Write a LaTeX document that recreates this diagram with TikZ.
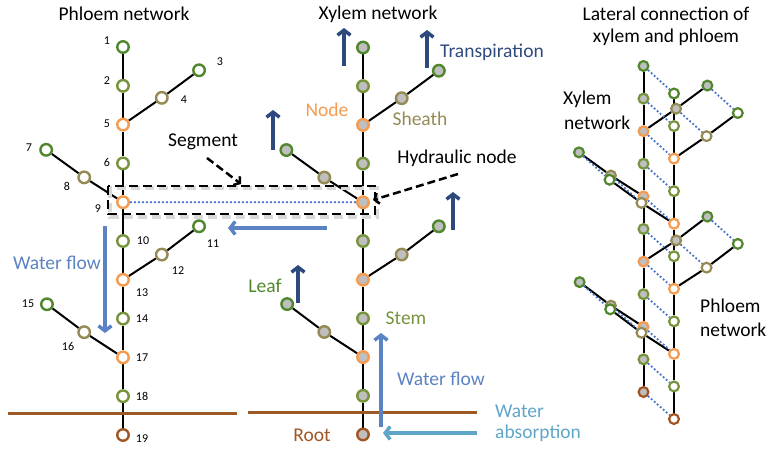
\documentclass[tikz,border=0pt]{standalone}
\usepackage{fontspec}
\setmainfont{Carlito}
\usetikzlibrary{arrows.meta,backgrounds}
\definecolor{leafc}{RGB}{80,135,45}
\definecolor{stemc}{RGB}{119,147,60}
\definecolor{sheathc}{RGB}{148,138,84}
\definecolor{jointc}{RGB}{245,155,80}
\definecolor{rootc}{RGB}{160,85,35}
\definecolor{grayfill}{RGB}{191,191,191}
\definecolor{darkbluec}{RGB}{46,74,125}
\definecolor{flowc}{RGB}{91,130,195}
\definecolor{absorbc}{RGB}{95,165,200}
\definecolor{dotc}{RGB}{68,114,196}
\definecolor{groundc}{RGB}{155,90,40}
\tikzset{
  edge/.style={line width=2pt, black},
  dotline/.style={dotc, line width=1.8pt, dash pattern=on 1.8pt off 2.2pt},
  bigtext/.style={inner sep=0pt, font=\fontsize{19.5}{23}\selectfont},
  numtext/.style={inner sep=0pt, font=\fontsize{12}{14}\selectfont},
  upblue/.style={darkbluec, line width=3.5pt, -{Straight Barb[length=5pt,width=13pt]}},
  flowarrow/.style={flowc, line width=3.5pt, -{Straight Barb[length=5pt,width=13pt]}},
  absorbarrow/.style={absorbc, line width=3.5pt, -{Straight Barb[length=5pt,width=13pt]}},
  pointer/.style={black, line width=2.5pt, dash pattern=on 8pt off 4pt, -{Straight Barb[length=4pt,width=11pt]}},
  segbox/.style={black, line width=2pt, dash pattern=on 9pt off 5pt},
  ground/.style={groundc, line width=3pt},
}
% #1 prefix, #2 x0, #3 y0, #4 spacing, #5 fill, #6 size, #7 line width
\newcommand{\plantnet}[7]{%
\begin{scope}[shift={(#2,#3)}, x=#4pt, y=-#4pt,
  every node/.append style={circle, inner sep=0pt, minimum size=#6pt, line width=#7pt, fill=#5}]
 \node[draw=leafc] (#1-1) at (0,0) {};
 \node[draw=stemc] (#1-2) at (0,1) {};
 \node[draw=jointc] (#1-5) at (0,2) {};
 \node[draw=stemc] (#1-6) at (0,3) {};
 \node[draw=jointc] (#1-9) at (0,4) {};
 \node[draw=stemc] (#1-10) at (0,5) {};
 \node[draw=jointc] (#1-13) at (0,6) {};
 \node[draw=stemc] (#1-14) at (0,7) {};
 \node[draw=jointc] (#1-17) at (0,8) {};
 \node[draw=stemc] (#1-18) at (0,9) {};
 \node[draw=rootc] (#1-19) at (0,10) {};
 \node[draw=leafc] (#1-3) at (1.96,0.6) {};
 \node[draw=sheathc] (#1-4) at (1.0,1.31) {};
 \node[draw=leafc] (#1-7) at (-1.98,2.65) {};
 \node[draw=sheathc] (#1-8) at (-1.0,3.36) {};
 \node[draw=leafc] (#1-11) at (1.96,4.62) {};
 \node[draw=sheathc] (#1-12) at (1.0,5.35) {};
 \node[draw=leafc] (#1-15) at (-1.96,6.63) {};
 \node[draw=sheathc] (#1-16) at (-1.0,7.35) {};
 \begin{pgfonlayer}{background}
  \draw[edge] (#1-1) -- (#1-2) -- (#1-5) -- (#1-6) -- (#1-9) -- (#1-10) -- (#1-13)
     -- (#1-14) -- (#1-17) -- (#1-18) -- (#1-19);
  \draw[edge] (#1-5) -- (#1-4) -- (#1-3);
  \draw[edge] (#1-9) -- (#1-8) -- (#1-7);
  \draw[edge] (#1-13) -- (#1-12) -- (#1-11);
  \draw[edge] (#1-17) -- (#1-16) -- (#1-15);
 \end{pgfonlayer}
\end{scope}}
\begin{document}
\begin{tikzpicture}[x=1pt,y=-1pt]
\useasboundingbox (0,0) rectangle (773,449);

% ground lines
\coordinate (gA1) at (8,413); \coordinate (gA2) at (237,413);
\coordinate (gB1) at (248,412); \coordinate (gB2) at (477,412);
\draw[ground] (gA1) -- (gA2);
\draw[ground] (gB1) -- (gB2);

% segment box shadow and box
\draw[black!15, line width=4pt, dash pattern=on 9pt off 5pt] (110,188.5) rectangle (377,216.5);
\draw[segbox] (108,186) rectangle (375,214);

% networks
\plantnet{P}{123}{47}{38.8}{white}{11.5}{2.4}
\plantnet{X}{363}{47.5}{38.7}{grayfill}{11.5}{2.4}
\plantnet{RX}{643.5}{66}{32.6}{grayfill}{9.8}{2.2}
\plantnet{RP}{674}{93.5}{32.55}{white}{9.8}{2.2}

\begin{pgfonlayer}{background}
 \draw[ground] (gA1) -- (gA2);
 \draw[ground] (gB1) -- (gB2);
 \foreach \i in {1,...,19} { \draw[dotline] (RX-\i) -- (RP-\i); }
\end{pgfonlayer}
\draw[dotline] (P-9) -- (X-9);

% number labels
\foreach \n/\xx/\yy in {1/107/41, 2/107/81, 3/220/62, 4/184/100, 5/107/124, 6/107/162,
  7/29/148, 8/67/186, 9/98/209, 10/143/241, 11/213/244, 12/178/271, 13/142/293,
  14/142/319, 15/28/304, 16/68/346, 17/142/358, 18/142/396, 19/142/439}
  { \node[numtext] (num\n) at (\xx,\yy) {\n}; }

% titles
\node[bigtext] (t1) at (124,14) {Phloem network};
\node[bigtext] (t2) at (378,14) {Xylem network};
\node[bigtext] (t3) at (666,14) {Lateral connection of};
\node[bigtext] (t4) at (666,37) {xylem and phloem};

% labels
\node[bigtext, text=darkbluec] (ltrans) at (492,52) {Transpiration};
\node[bigtext, text=jointc] (lnode) at (327,110) {Node};
\node[bigtext, text=sheathc] (lsheath) at (420,119) {Sheath};
\node[bigtext] (lseg) at (203,142) {Segment};
\node[bigtext] (lhyd) at (457,158) {Hydraulic node};
\node[bigtext, text=flowc] (lwf1) at (57,263) {Water flow};
\node[bigtext, text=leafc] (lleaf) at (265,286) {Leaf};
\node[bigtext, text=stemc] (lstem) at (406,318) {Stem};
\node[bigtext, text=flowc] (lwf2) at (441,379) {Water flow};
\node[bigtext, text=absorbc, anchor=west] (lwat) at (495,411) {Water};
\node[bigtext, text=absorbc, anchor=west] (labs) at (495,433) {absorption};
\node[bigtext, text=rootc] (lroot) at (312,435) {Root};
\node[bigtext, anchor=west] (lxy1) at (563,99) {Xylem};
\node[bigtext, anchor=west] (lxy2) at (564,123) {network};
\node[bigtext, anchor=west] (lph1) at (700,306) {Phloem};
\node[bigtext, anchor=west] (lph2) at (700,330) {network};

% transpiration arrows
\coordinate (ta1) at (344,66); \coordinate (tb1) at (344,28);
\coordinate (ta2) at (427,68); \coordinate (tb2) at (427,30);
\coordinate (ta3) at (273,150); \coordinate (tb3) at (273,110);
\coordinate (ta4) at (453,230); \coordinate (tb4) at (453,192);
\coordinate (ta5) at (298,303); \coordinate (tb5) at (298,265);
\foreach \k in {1,...,5} { \draw[upblue] (ta\k) -- (tb\k); }

% water flow arrows
\coordinate (fa1) at (327,228); \coordinate (fb1) at (228,228);
\coordinate (fa2) at (105,226); \coordinate (fb2) at (105,333);
\coordinate (fa3) at (381,427); \coordinate (fb3) at (381,333);
\draw[flowarrow] (fa1) -- (fb1);
\draw[flowarrow] (fa2) -- (fb2);
\draw[flowarrow] (fa3) -- (fb3);

% absorption arrow
\coordinate (aa) at (477,433); \coordinate (ab) at (383,433);
\draw[absorbarrow] (aa) -- (ab);

% pointers
\coordinate (sa) at (207,158); \coordinate (sb) at (241,184);
\coordinate (ha) at (458,174); \coordinate (hb) at (373,200);
\draw[pointer] (sa) -- (sb);
\draw[pointer] (ha) -- (hb);
\end{tikzpicture}
\end{document}
